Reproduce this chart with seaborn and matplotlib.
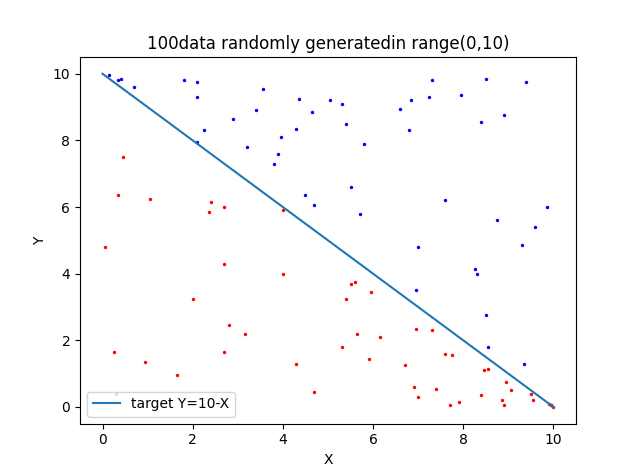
import matplotlib
matplotlib.use("Agg")
import matplotlib.pyplot as plt
import seaborn as sns
import numpy as np

blue_x = [0.15,0.35,0.4,0.7,1.8,2.1,2.1,2.1,2.25,2.9,3.2,3.4,3.55,3.8,3.9,3.95,4.3,4.35,4.5,4.65,4.7,5.05,5.3,5.4,5.5,5.7,5.8,6.6,6.8,6.85,6.95,7.0,7.25,7.3,7.6,7.95,8.25,8.3,8.4,8.5,8.5,8.55,8.75,8.9,9.3,9.35,9.4,9.6,9.85,9.95]
blue_y = [9.95,9.8,9.85,9.6,9.8,9.75,9.3,7.95,8.3,8.65,7.8,8.9,9.55,7.3,7.6,8.1,8.35,9.25,6.35,8.85,6.05,9.2,9.1,8.5,6.6,5.8,7.9,8.95,8.3,9.2,3.5,4.8,9.3,9.8,6.2,9.35,4.15,4.0,8.55,9.85,2.75,1.8,5.6,8.75,4.85,1.3,9.75,5.4,6.0,0.05]
red_x = [0.05,0.25,0.35,0.45,0.3,0.95,1.05,1.65,2.0,2.35,2.4,2.7,2.7,2.7,2.8,3.15,4.0,4.0,4.3,4.7,5.3,5.4,5.5,5.6,5.65,5.9,5.95,6.15,6.7,6.9,6.95,7.0,7.3,7.4,7.6,7.7,7.75,7.9,8.4,8.45,8.55,8.85,8.9,8.95,9.05,9.5,9.55,9.9,9.95,10.0]
red_y = [4.8,1.65,6.35,7.5,0.4,1.35,6.25,0.95,3.25,5.85,6.15,6.0,4.3,1.65,2.45,2.2,5.9,4.0,1.3,0.45,1.8,3.25,3.7,3.75,2.2,1.45,3.45,2.1,1.25,0.6,2.35,0.3,2.3,0.55,1.6,0.05,1.55,0.15,0.35,1.1,1.15,0.2,0.05,0.75,0.5,0.4,0.2,0.1,0.05,0.0]
line_x = [0, 10]
line_y = [10, 0]

fig, ax = plt.subplots(figsize=(6.4, 4.76), dpi=100)
sns.scatterplot(x=blue_x, y=blue_y, color="blue", s=6, linewidth=0, ax=ax)
sns.scatterplot(x=red_x, y=red_y, color="red", s=6, linewidth=0, ax=ax)
sns.lineplot(x=line_x, y=line_y, color="#1f77b4", label="target Y=10-X", ax=ax)
ax.set_title("100data randomly generatedin range(0,10)")
ax.set_xlabel("X")
ax.set_ylabel("Y")
ax.legend(loc="lower left")
fig.savefig("out.png", dpi=100)
